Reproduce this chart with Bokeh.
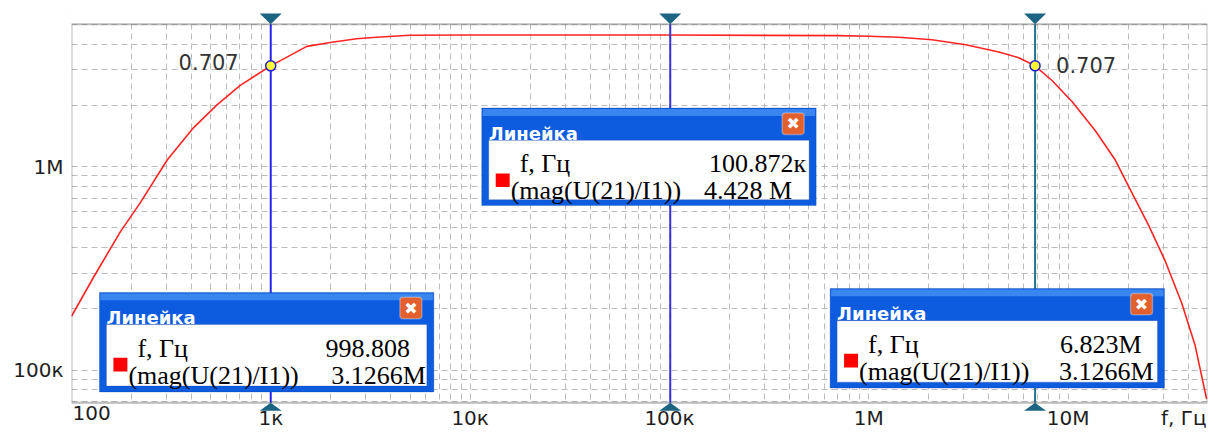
import math
from bokeh.plotting import figure
from bokeh.models import FixedTicker, Range1d, Label, BoxAnnotation, PolyAnnotation
from bokeh.embed import file_html
from bokeh.resources import INLINE

# ---------------- data ----------------
freq = [100, 129, 176, 222, 302, 410, 537, 702, 998.808, 1515, 1982, 2696,
        3395, 4983, 10000, 100872, 700000, 1000000, 1416000, 2073000,
        3067000, 4487000, 5650000, 6823000, 8296000, 10450000, 13690000,
        17230000, 20860000, 25300000, 30670000, 37150000, 43350000, 49500000]
mag = [184e3, 286e3, 479e3, 667e3, 1.077e6, 1.555e6, 2.011e6, 2.507e6,
       3.1266e6, 3.897e6, 4.074e6, 4.244e6, 4.322e6, 4.42e6, 4.428e6,
       4.428e6, 4.40e6, 4.37e6, 4.32e6, 4.197e6, 3.97e6, 3.656e6, 3.429e6,
       3.1266e6, 2.649e6, 2.087e6, 1.499e6, 1.077e6, 745e3, 516e3, 344e3,
       213e3, 132e3, 72.1e3]

cursor_f = [998.808, 100872, 6823000]
cursor_mag = [3.1266e6, 4.428e6, 3.1266e6]
cursor_colors = ["#2424ee", "#3636d4", "#21728e"]
box_f_text = ["998.808", "100.872к", "6.823M"]
box_mag_text = ["3.1266M", "4.428 M", "3.1266M"]
series_name = "(mag(U(21)/I1))"
level_text = "0.707"

x_ticks = [100, 1e3, 1e4, 1e5, 1e6, 1e7]
x_tick_labels = ["", "1к", "10к", "100к", "1M", "10M"]
y_ticks = [1e5, 1e6]
y_tick_labels = ["100к", "1M"]
x_first_label = "100"
x_title = "f, Гц"

X0, X1 = 100, 5e7
Y0, Y1 = 69.2e3, 5.0e6

# ---------------- layout ----------------
W, H = 1208, 432
FL, FR = 71, 1207          # frame left / right (canvas px)
VT, VB = 24, 405           # visible plot box top / bottom (canvas px)
dec_px = (VB - VT) / math.log10(Y1 / Y0)
YT = Y1 * 10 ** (VT / dec_px)          # value at canvas top
YB = Y0 / 10 ** ((H - VB) / dec_px)    # value at canvas bottom


def rx(px):  # reference picture pixel -> frequency
    return 10 ** (2 + (px - 71) / 199.7)


def ry(py):  # reference picture pixel -> magnitude
    return 10 ** (6 + (170 - py) / 208.7)


p = figure(width=W, height=H, x_axis_type="log", y_axis_type="log",
           x_range=Range1d(X0, X1), y_range=Range1d(YB, YT),
           output_backend="svg", toolbar_location=None,
           min_border_left=FL, min_border_right=W - FR,
           min_border_top=0, min_border_bottom=0)
p.background_fill_color = "white"
p.border_fill_color = "white"
p.outline_line_color = None

minor_x = [m * 10 ** d for d in range(2, 8) for m in range(2, 10)]
minor_y = [m * 10 ** d for d in range(4, 7) for m in range(2, 10)]
xt = FixedTicker(ticks=x_ticks, minor_ticks=minor_x)
yt = FixedTicker(ticks=y_ticks, minor_ticks=minor_y)
p.xaxis.ticker = xt
p.yaxis.ticker = yt
p.xgrid.ticker = xt
p.ygrid.ticker = yt
p.xaxis.major_label_overrides = {t: l for t, l in zip(x_ticks, x_tick_labels)}
p.yaxis.major_label_overrides = {t: l for t, l in zip(y_ticks, y_tick_labels)}

for ax in (p.xaxis[0], p.yaxis[0]):
    ax.axis_line_color = None
    ax.major_tick_line_color = None
    ax.minor_tick_line_color = None
    ax.major_tick_out = 0
    ax.major_tick_in = 0
    ax.minor_tick_out = 0
    ax.major_label_text_font = "DejaVu Sans"
    ax.major_label_text_font_size = "20px"
    ax.major_label_text_color = "#1e1e1e"
p.xaxis.major_label_standoff = -24
p.yaxis.major_label_standoff = 8

for g in (p.xgrid[0], p.ygrid[0]):
    g.grid_line_color = "#bcbcbc"
    g.grid_line_dash = "6 4"
    g.grid_line_width = 1
    g.minor_grid_line_color = "#bcbcbc"
    g.minor_grid_line_dash = "6 4"
    g.minor_grid_line_width = 1

# white margins above / below the plot box (cover the grid there)
p.add_layout(BoxAnnotation(bottom=Y1, fill_color="white", fill_alpha=1,
                           line_color=None, level="underlay"))
p.add_layout(BoxAnnotation(top=Y0, fill_color="white", fill_alpha=1,
                           line_color=None, level="underlay"))

# response curve
p.line(freq, mag, line_color="#ff2424", line_width=1.6)

# cursors
p.segment(x0=cursor_f, y0=[Y0] * 3, x1=cursor_f, y1=[Y1] * 3,
          line_color=cursor_colors, line_width=2)
p.scatter([cursor_f[0], cursor_f[2]], [cursor_mag[0], cursor_mag[2]],
          size=10, fill_color="#ffff33", line_color="#2020c8", line_width=1.5)

# plot box outline
p.add_layout(BoxAnnotation(left=X0, right=X1, bottom=Y0, top=Y1, fill_alpha=0,
                           line_color="#222222", line_width=2))

p.add_layout(Label(x=cursor_f[0], y=cursor_mag[0], text=level_text,
                   x_offset=-32, y_offset=4, text_align="right",
                   text_baseline="middle", text_font="DejaVu Sans",
                   text_font_size="21px", text_color="#333333"))
p.add_layout(Label(x=cursor_f[2], y=cursor_mag[2], text=level_text,
                   x_offset=21, y_offset=1, text_align="left",
                   text_baseline="middle", text_font="DejaVu Sans",
                   text_font_size="21px", text_color="#333333"))

# cursor handles (triangles)
hw = 11 / 199.7
hh_top = 11 / dec_px
hh_bot = 8 / dec_px
for f in cursor_f:
    xs = [f * 10 ** (-hw), f * 10 ** hw, f]
    p.add_layout(PolyAnnotation(xs=xs, ys=[Y1 * 10 ** hh_top, Y1 * 10 ** hh_top, Y1],
                                fill_color="#1b6583", fill_alpha=1,
                                line_color=None))
    p.add_layout(PolyAnnotation(xs=xs, ys=[Y0 * 10 ** (-hh_bot), Y0 * 10 ** (-hh_bot), Y0],
                                fill_color="#1b6583", fill_alpha=1,
                                line_color=None))

# axis end labels
p.add_layout(Label(x=X0, y=YB, text=x_first_label, x_offset=1, y_offset=24,
                   text_align="left", text_baseline="top",
                   text_font="DejaVu Sans", text_font_size="20px",
                   text_color="#1e1e1e"))
p.add_layout(Label(x=X1, y=YB, text=x_title, x_offset=-1, y_offset=24,
                   text_align="right", text_baseline="top",
                   text_font="DejaVu Sans", text_font_size="20px",
                   text_color="#1e1e1e"))

# ---------------- "Линейка" windows ----------------
box_rects = [(99, 434, 299, 401), (482, 817, 110, 210), (831, 1166, 295, 397)]
val1_right = [410, 807, 1143]
val2_right = [426, 793, 1155]


def box(l, r, t, b, **kw):
    p.add_layout(BoxAnnotation(left=rx(l), right=rx(r), top=ry(t), bottom=ry(b),
                               fill_alpha=1, **kw))


def text(x, y, s, **kw):
    args = dict(text_font="Liberation Serif", text_font_size="26px",
                text_color="black", text_baseline="alphabetic")
    args.update(kw)
    p.add_layout(Label(x=rx(x), y=ry(y), text=s, **args))


for i, (l, r, t, b) in enumerate(box_rects):
    box(l, r, t, b, fill_color="#0d5ce0", line_color="#0a3c9c", line_width=1)
    box(l + 1, r - 1, t + 1, t + 8, fill_color="#3a86f0", line_color=None)
    box(l + 7, r - 7, t + 33, b - 6, fill_color="white", line_color="#2a4690",
        line_width=1)
    box(r - 34, r - 12, t + 5, t + 27, fill_color="#e2602e", line_color="white",
        line_width=1.5, border_radius=3)
    p.add_layout(Label(x=rx(r - 23), y=ry(t + 16), text="✖", text_align="center",
                       text_baseline="middle", text_font="DejaVu Sans",
                       text_font_size="16px", text_color="white"))
    text(l + 7, t + 26, "Линейка", text_font="DejaVu Sans", text_font_size="18px",
         text_font_style="bold", text_color="white")
    text(l + 38, t + 57, "f, Гц")
    text(val1_right[i], t + 57, box_f_text[i], text_align="right")
    box(l + 14, l + 28, t + 67, t + 81, fill_color="#ff0000", line_color=None)
    text(l + 29, t + 85, series_name)
    text(val2_right[i], t + 85, box_mag_text[i], text_align="right")

open("out.html", "w").write(file_html(p, INLINE))
